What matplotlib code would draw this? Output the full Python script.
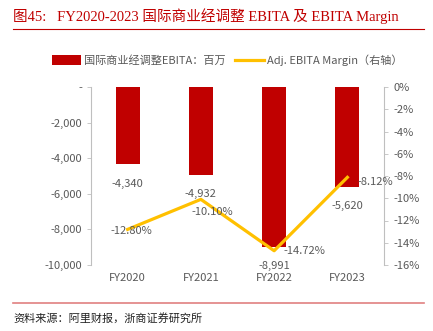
import numpy as np
import matplotlib.pyplot as plt
from matplotlib.ticker import FuncFormatter

plt.rcParams['font.family'] = ['Noto Sans CJK SC', 'DejaVu Sans']

years = ['FY2020', 'FY2021', 'FY2022', 'FY2023']
ebita = [-4340, -4932, -8991, -5620]
margin = [-12.80, -10.10, -14.72, -8.12]

bar_color = '#C00000'
line_color = '#FFC000'
gray = '#595959'

fig = plt.figure(figsize=(4.33, 3.31), dpi=100)
ax = fig.add_axes([91/433, 1-265/331, 293/433, 178/331])
ax2 = ax.twinx()

x = np.arange(len(years))
ax.bar(x, ebita, width=0.33, color=bar_color, label='国际商业经调整EBITA：百万', zorder=2)
ax2.plot(x, margin, color=line_color, lw=2.3, label='Adj. EBITA Margin（右轴）', zorder=3)

ax.set_xlim(-0.5, 3.5)
ax.set_ylim(-10000, 0)
ax2.set_ylim(-16, 0)
ax.set_yticks(np.arange(-10000, 1, 2000))
ax2.set_yticks(np.arange(-16, 1, 2))
ax.yaxis.set_major_formatter(FuncFormatter(lambda v, p: '-' if v == 0 else f'{v:,.0f}'))
ax2.yaxis.set_major_formatter(FuncFormatter(lambda v, p: f'{v:.0f}%'))
ax.set_xticks(x)
ax.set_xticklabels(years)

for a in (ax, ax2):
    for s in a.spines.values():
        s.set_visible(False)
    a.tick_params(labelsize=8, colors=gray, length=3, width=0.6)
    a.tick_params(axis='y', color='#BFBFBF')
ax.tick_params(axis='x', length=0, pad=6)
ax.spines['left'].set_visible(True)
ax.spines['left'].set_color('#BFBFBF')
ax2.spines['right'].set_visible(True)
ax2.spines['right'].set_color('#BFBFBF')
ax.set_zorder(1)
ax2.set_zorder(2)
ax.patch.set_visible(False)

for i, v in enumerate(ebita):
    ax.annotate(f'{v:,}', (i, v), xytext=(0, -14), textcoords='offset points',
                ha='center', va='center', fontsize=8, color=gray)

offs = [(3, -1), (8, -9), (22, 0), (20, -3)]
for i, v in enumerate(margin):
    ax2.annotate(f'{v:.2f}%', (i, v), xytext=offs[i], textcoords='offset points',
                 ha='center', va='center', fontsize=8, color=gray)

h1, l1 = ax.get_legend_handles_labels()
h2, l2 = ax2.get_legend_handles_labels()
fig.legend(h1 + h2, l1 + l2, loc='center', bbox_to_anchor=(0.525, 1-60/331), ncol=2,
           frameon=False, fontsize=8, labelcolor=gray, handlelength=2.6,
           handleheight=0.9, columnspacing=0.8, handletextpad=0.3)

fig.text(13/433, 1-16/331, '图45:   FY2020-2023 国际商业经调整 EBITA 及 EBITA Margin',
         color=bar_color, fontsize=10.5, va='center', ha='left',
         family=['Liberation Serif', 'Noto Sans CJK SC'])
fig.add_artist(plt.Line2D([13/433, 424/433], [1-29/331, 1-29/331], color=bar_color, lw=0.8))
fig.add_artist(plt.Line2D([13/433, 424/433], [1-303/331, 1-303/331], color='#E08080', lw=1.2))
fig.text(13/433, 1-318/331, '资料来源：阿里财报，浙商证券研究所', fontsize=8, va='center', ha='left', color='#222222')

fig.savefig('out.png', dpi=100)
